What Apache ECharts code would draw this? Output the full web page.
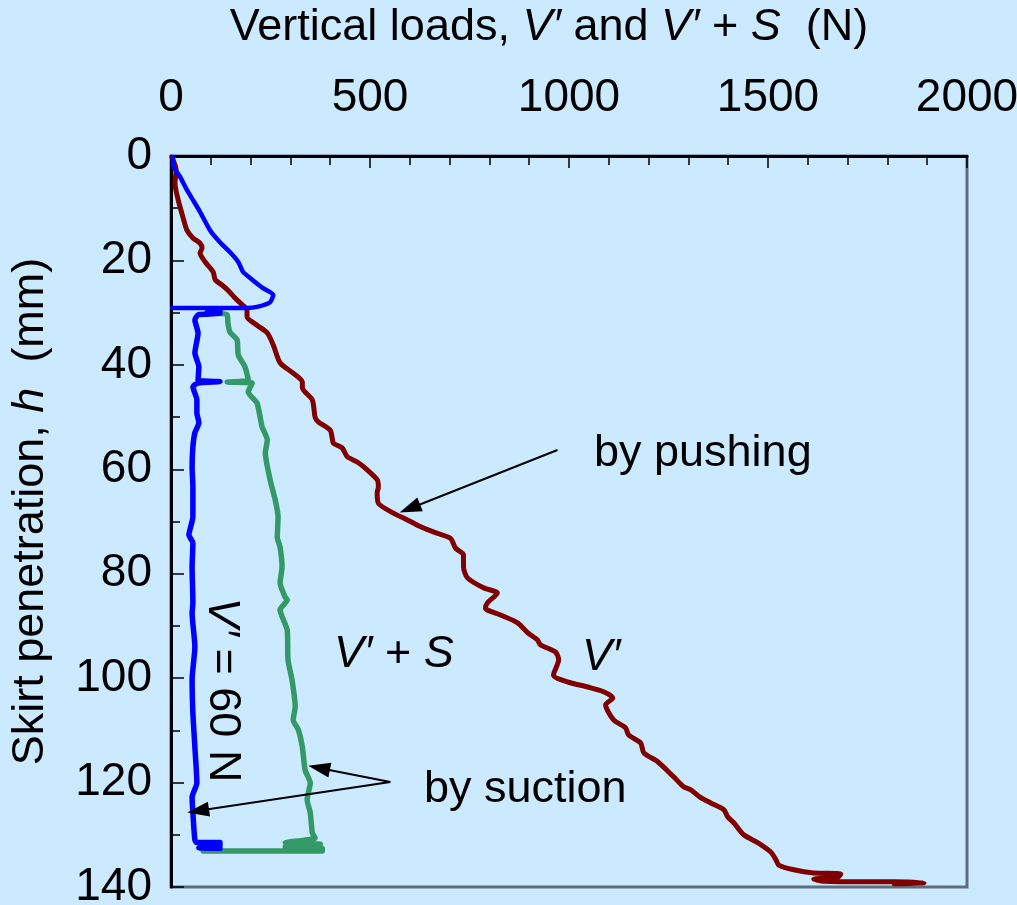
<!DOCTYPE html>
<html>
<head>
<meta charset="utf-8">
<script src="https://cdn.jsdelivr.net/npm/echarts@6/dist/echarts.min.js"></script>
<style>
  html, body { margin: 0; padding: 0; background: #cceaff; }
  #chart { width: 1017px; height: 905px; }
</style>
</head>
<body>
<div id="chart"></div>
<script>
// V' by pushing (load N, penetration mm)
const pushLoad = [3, 13, 10, 18, 30, 40, 55, 73, 78, 73, 86, 106, 111, 128, 143, 161, 179, 191, 191, 216, 242, 257, 274, 307, 330, 330, 355, 362, 370, 400, 405, 408, 430, 443, 468, 493, 518, 521, 518, 521, 559, 594, 619, 659, 702, 715, 735, 735, 745, 785, 820, 795, 790, 828, 871, 896, 921, 928, 966, 974, 961, 996, 1047, 1087, 1110, 1092, 1112, 1142, 1150, 1180, 1188, 1223, 1263, 1288, 1306, 1331, 1356, 1389, 1399, 1414, 1439, 1474, 1507, 1520, 1527, 1565, 1615, 1683, 1676, 1615, 1640, 1751, 1817, 1892, 1817]
const pushDepth = [0.4, 2.7, 5.2, 8.4, 11.7, 14.2, 15.7, 16.7, 17.6, 18.6, 20.3, 22.2, 23.7, 24.7, 25.7, 27.2, 28.5, 29.5, 30.8, 32.4, 33.9, 36.2, 39.6, 41.6, 43.3, 44.4, 46.7, 50.0, 50.9, 52.5, 54.0, 55.0, 55.9, 57.6, 58.6, 60.1, 62.0, 63.4, 64.5, 66.5, 68.4, 69.7, 70.7, 72.0, 73.2, 75.1, 76.4, 78.7, 80.8, 82.7, 83.7, 85.6, 86.6, 87.9, 89.4, 91.3, 92.7, 93.6, 95.0, 96.5, 99.4, 100.7, 101.7, 102.6, 103.8, 105.1, 108.0, 109.5, 110.9, 112.4, 114.3, 116.0, 118.9, 120.8, 121.4, 122.9, 123.9, 125.2, 126.6, 127.7, 130.0, 131.5, 133.3, 134.8, 135.8, 136.7, 137.3, 137.5, 138.1, 138.5, 138.9, 139.0, 139.0, 139.2, 139.4]

// V' during self-weight stage and suction stage (V' = 60 N)
const weightLoad = [5, 5, 23, 40, 55, 73, 98, 123, 148, 169, 181, 204, 231, 257, 249, 216, 191, 3]
const weightDepth = [0.2, 1.7, 4.0, 6.5, 8.4, 10.7, 14.2, 16.5, 18.4, 20.3, 22.2, 23.7, 25.3, 26.6, 28.0, 28.9, 29.1, 29.1]
const suctionLoad = [123, 91, 123, 91, 68, 60, 68, 60, 70, 68, 123, 68, 55, 65, 65, 70, 60, 55, 53, 55, 55, 45, 55, 53, 55, 53, 60, 53, 55, 60, 65, 53, 55, 60, 65, 123, 123, 70, 123]
const suctionDepth = [29.6, 29.9, 30.1, 30.3, 30.4, 31.4, 33.9, 37.7, 40.4, 42.9, 43.2, 43.5, 44.2, 46.7, 49.2, 51.1, 53.0, 55.7, 59.6, 63.4, 69.1, 72.6, 74.1, 78.7, 85.6, 87.5, 94.0, 100.3, 106.7, 113.2, 120.1, 122.8, 125.8, 131.0, 131.5, 131.5, 132.2, 132.5, 132.6]

// V' + S during suction
const totalLoad = [116, 141, 143, 148, 166, 169, 186, 194, 141, 204, 194, 216, 224, 229, 242, 237, 249, 262, 269, 267, 274, 279, 274, 287, 292, 274, 292, 294, 304, 312, 307, 320, 330, 337, 350, 342, 350, 355, 362, 287, 375, 287, 380, 380, 81]
const totalDepth = [30.1, 30.4, 32.0, 33.7, 35.2, 38.1, 40.4, 42.9, 43.3, 43.5, 45.2, 47.3, 50.0, 51.9, 54.4, 56.9, 62.0, 65.9, 69.1, 73.0, 74.9, 78.7, 81.8, 84.5, 85.0, 86.9, 90.8, 96.5, 100.3, 105.5, 108.0, 109.9, 113.2, 117.6, 120.1, 123.3, 125.8, 129.6, 130.6, 131.5, 131.8, 132.3, 132.6, 133.1, 133.1]

const xTicks = [0, 2000, 500]
const yTicks = [0, 140, 20]

const zip = (xs, ys) => xs.map((x, i) => [x, ys[i]])

const FONT = 'Liberation Sans, Arial, sans-serif'
const FS = 45
const TICK_FS = 46

const chart = echarts.init(document.getElementById('chart'), null, { renderer: 'canvas' })

const arrowLine = {
  silent: true,
  symbol: ['none', 'triangle'],
  symbolSize: [15, 22],
  label: { show: false },
  lineStyle: { color: '#000', width: 2, type: 'solid' },
  emphasis: { disabled: true },
  animation: false,
}

const curveStyle = (color, width) => ({ color, width, cap: 'round', join: 'round' })

const richText = {
  n: { fontSize: FS, color: '#000', fill: '#000', fontFamily: FONT },
  i: { fontSize: FS, color: '#000', fill: '#000', fontFamily: FONT, fontStyle: 'italic' },
}

chart.setOption({
  backgroundColor: '#cceaff',
  animation: false,
  textStyle: { fontFamily: FONT },
  grid: {
    left: 171,
    right: 50,
    top: 156,
    bottom: 18,
    containLabel: false,
    outerBoundsMode: 'none',
    show: true,
    borderColor: '#5f6e7e',
    borderWidth: 3,
  },
  xAxis: {
    type: 'value',
    position: 'top',
    min: xTicks[0],
    max: xTicks[1],
    interval: xTicks[2],
    name: '{n|Vertical loads, }{i|V′}{n| and }{i|V′}{n| + }{i|S}{n|  (N)}',
    nameLocation: 'middle',
    nameGap: 106,
    nameTextStyle: { rich: richText, padding: [0, 40, 0, 0] },
    axisLine: { show: true, lineStyle: { color: '#000', width: 3 } },
    axisTick: { show: true, inside: true, length: 12, lineStyle: { color: '#000', width: 1.5 } },
    minorTick: { show: true, splitNumber: 5, length: 9, lineStyle: { color: '#000', width: 1.5 } },
    axisLabel: { fontSize: TICK_FS, color: '#000', margin: 35, fontFamily: FONT, formatter: (v) => String(v) },
    splitLine: { show: false },
  },
  yAxis: {
    type: 'value',
    inverse: true,
    min: yTicks[0],
    max: yTicks[1],
    interval: yTicks[2],
    name: '{n|Skirt penetration, }{i|h}{n|  (mm)}',
    nameLocation: 'middle',
    nameGap: 118,
    nameRotate: 90,
    nameTextStyle: { rich: richText, padding: [0, 0, 0, 20] },
    axisLine: { show: true, lineStyle: { color: '#000', width: 3 } },
    axisTick: { show: true, inside: true, length: 13, lineStyle: { color: '#000', width: 1.5 } },
    minorTick: { show: true, splitNumber: 2, length: 9, lineStyle: { color: '#000', width: 1.5 } },
    axisLabel: { fontSize: TICK_FS, color: '#000', margin: 19, fontFamily: FONT, formatter: (v) => String(v) },
    splitLine: { show: false },
  },
  series: [
    {
      name: "V'",
      type: 'line',
      data: zip(pushLoad, pushDepth),
      showSymbol: false,
      symbol: 'none',
      smooth: 0.25,
      lineStyle: curveStyle('#800000', 5),
      markLine: Object.assign({}, arrowLine, {
        data: [[{ coord: [971, 56.3] }, { coord: [600, 67.5] }]],
      }),
    },
    {
      name: "V' + S",
      type: 'line',
      data: zip(totalLoad, totalDepth),
      showSymbol: false,
      symbol: 'none',
      smooth: 0.2,
      lineStyle: curveStyle('#339966', 5.5),
      markLine: Object.assign({}, arrowLine, {
        data: [
          [{ coord: [551, 119.9] }, { coord: [372, 117.2] }],
          [{ coord: [551, 119.9] }, { coord: [68, 125.4] }],
        ],
      }),
    },
    {
      name: 'self-weight',
      type: 'line',
      data: zip(weightLoad, weightDepth),
      showSymbol: false,
      symbol: 'none',
      smooth: 0.2,
      lineStyle: curveStyle('#0000ff', 4.5),
    },
    {
      name: 'suction',
      type: 'line',
      data: zip(suctionLoad, suctionDepth),
      showSymbol: false,
      symbol: 'none',
      smooth: 0.2,
      lineStyle: curveStyle('#0000ff', 5.5),
    },
  ],
  graphic: [
    {
      type: 'text', left: 594, top: 431,
      style: { text: 'by pushing', font: FS + 'px ' + FONT, fill: '#000' },
    },
    {
      type: 'text', left: 334, top: 632,
      style: { text: '{i|V′}{n| + }{i|S}', rich: richText },
    },
    {
      type: 'text', left: 582, top: 635,
      style: { text: 'V′', font: 'italic ' + FS + 'px ' + FONT, fill: '#000' },
    },
    {
      type: 'text', left: 424, top: 767,
      style: { text: 'by suction', font: FS + 'px ' + FONT, fill: '#000' },
    },
    {
      type: 'text',
      x: 222, y: 690,
      rotation: -Math.PI / 2,
      style: {
        text: '{i|V′}{n| = 60 N}',
        align: 'center',
        verticalAlign: 'middle',
        rich: richText,
      },
    },
  ],
})
</script>
</body>
</html>
